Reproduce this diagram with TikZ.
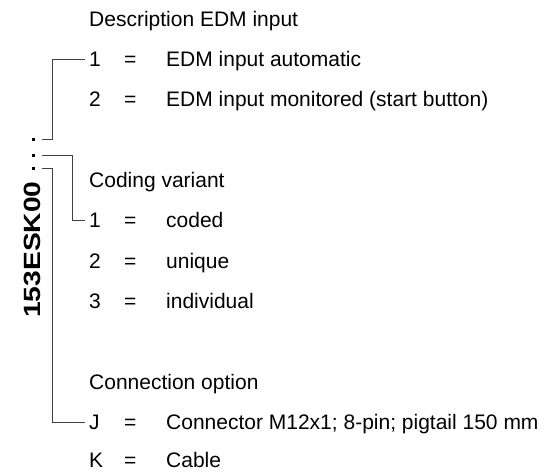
\documentclass[tikz,border=0pt]{standalone}
\usepackage{fontspec}
\setmainfont{Liberation Sans}
\begin{document}
\begin{tikzpicture}[x=1pt,y=-1pt,
  txt/.style={font=\fontsize{21}{25}\selectfont, anchor=base west, inner sep=0pt},
  key/.style={txt, inner xsep=4pt},
  conn/.style={draw=black!75, line width=1pt},
  code/.style={font=\fontsize{23.5}{28}\selectfont\bfseries, rotate=90, xscale=1.2, anchor=base west, inner sep=0pt},
  dotmark/.style={fill=black}]
\useasboundingbox (0,0) rectangle (544,472);
% bold code label
\node[code] (code) at (41,318) {153ESK00};
\fill[dotmark] (31.5,137.5) rectangle +(3.5,3.5);
\fill[dotmark] (31.5,153.5) rectangle +(3.5,3.5);
\fill[dotmark] (31.5,166.5) rectangle +(3.5,3.5);
\coordinate (s1) at (42,139);
\coordinate (s2) at (42,155);
\coordinate (s3) at (42,168);
% group 1
\node[txt] (h1) at (89,26.2) {Description EDM input};
\node[key] (a1) at (85,66.5) {1};
\node[txt] (a1t) at (124,66.5) {\makebox[42pt][l]{=}EDM input automatic};
\node[key] (a2) at (85,106.8) {2};
\node[txt] (a2t) at (124,106.8) {\makebox[42pt][l]{=}EDM input monitored (start button)};
% group 2
\node[txt] (h2) at (89,187.5) {Coding variant};
\node[key] (b1) at (85,227.8) {1};
\node[txt] (b1t) at (124,227.8) {\makebox[42pt][l]{=}coded};
\node[key] (b2) at (85,268.2) {2};
\node[txt] (b2t) at (124,268.2) {\makebox[42pt][l]{=}unique};
\node[key] (b3) at (85,308.5) {3};
\node[txt] (b3t) at (124,308.5) {\makebox[42pt][l]{=}individual};
% group 3
\node[txt] (h3) at (89,389.2) {Connection option};
\node[key] (c1) at (85,429.5) {J};
\node[txt] (c1t) at (124,429.5) {\makebox[42pt][l]{=}Connector M12x1; 8-pin; pigtail 150 mm};
\node[key] (c2) at (85,467) {K};
\node[txt] (c2t) at (124,467) {\makebox[42pt][l]{=}Cable};
% connectors
\draw[conn] (s1) -- ++(10.5,0) |- (a1.west);
\draw[conn] (s2) -- ++(30,0) |- (b1.west);
\draw[conn] (s3) -- ++(10.5,0) |- (c1.west);
\end{tikzpicture}
\end{document}
